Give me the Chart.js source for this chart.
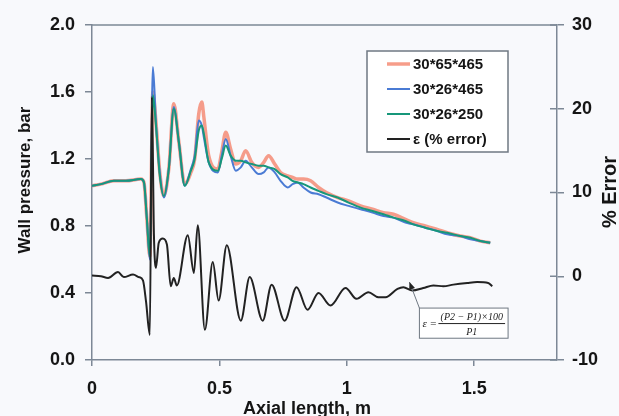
<!DOCTYPE html>
<html>
<head>
<meta charset="utf-8">
<script src="https://cdn.jsdelivr.net/npm/chart.js@4.4.0/dist/chart.umd.min.js"></script>
<style>
  html, body { margin: 0; padding: 0; background: #f8f9fc; }
  #wrap { width: 619px; height: 416px; }
</style>
</head>
<body>
<div id="wrap"><canvas id="chart" width="619" height="416"></canvas></div>
<script>
// axial positions (m) shared by the three pressure runs
const pressX = [0, 0.035, 0.086, 0.133, 0.192, 0.204, 0.215, 0.227, 0.239, 0.251, 0.266, 0.282, 0.302, 0.321,
  0.341, 0.364, 0.388, 0.403, 0.419, 0.431, 0.439, 0.458, 0.494, 0.509, 0.525, 0.544, 0.564, 0.584, 0.603,
  0.627, 0.654, 0.674, 0.693, 0.717, 0.740, 0.768, 0.787, 0.807, 0.830, 0.858, 0.889, 0.920, 0.964, 1.007,
  1.054, 1.101, 1.144, 1.183, 1.230, 1.261, 1.308, 1.355, 1.394, 1.445, 1.485, 1.524, 1.563];

// wall pressure (bar) for each mesh
const p65x465 = [1.04, 1.05, 1.07, 1.07, 1.08, 1.06, 0.85, 0.62, 1.60, 1.42, 1.12, 0.98, 1.15, 1.53,
  1.30, 1.05, 1.12, 1.20, 1.47, 1.54, 1.45, 1.22, 1.14, 1.24, 1.36, 1.26, 1.17, 1.19, 1.25,
  1.18, 1.15, 1.18, 1.22, 1.17, 1.12, 1.10, 1.09, 1.08, 1.08, 1.07, 1.03, 1.00, 0.97, 0.95,
  0.92, 0.90, 0.88, 0.87, 0.84, 0.82, 0.80, 0.78, 0.76, 0.74, 0.73, 0.71, 0.70];
const p26x465 = [1.04, 1.05, 1.07, 1.07, 1.08, 1.06, 0.85, 0.60, 1.75, 1.42, 1.12, 0.97, 1.15, 1.51,
  1.30, 1.04, 1.14, 1.22, 1.43, 1.40, 1.33, 1.18, 1.12, 1.22, 1.32, 1.22, 1.13, 1.15, 1.19,
  1.15, 1.11, 1.12, 1.15, 1.12, 1.07, 1.03, 1.05, 1.06, 1.03, 1.00, 0.99, 0.97, 0.94, 0.92,
  0.90, 0.88, 0.86, 0.85, 0.82, 0.81, 0.79, 0.77, 0.75, 0.74, 0.72, 0.71, 0.70];
const p26x250 = [1.04, 1.05, 1.07, 1.07, 1.08, 1.06, 0.85, 0.62, 1.58, 1.40, 1.10, 0.98, 1.15, 1.50,
  1.30, 1.04, 1.13, 1.20, 1.37, 1.40, 1.35, 1.18, 1.13, 1.20, 1.28, 1.22, 1.19, 1.19, 1.18,
  1.17, 1.16, 1.16, 1.15, 1.14, 1.11, 1.09, 1.07, 1.06, 1.05, 1.03, 1.01, 0.99, 0.97, 0.94,
  0.91, 0.89, 0.87, 0.85, 0.83, 0.81, 0.79, 0.77, 0.76, 0.74, 0.73, 0.71, 0.70];

// relative error between meshes (%)
const errX = [0, 0.035, 0.063, 0.102, 0.125, 0.161, 0.184, 0.200, 0.212, 0.227, 0.235, 0.243, 0.251,
  0.262, 0.278, 0.294, 0.309, 0.321, 0.333, 0.376, 0.400, 0.415, 0.443, 0.474, 0.497, 0.529,
  0.584, 0.619, 0.670, 0.705, 0.756, 0.803, 0.846, 0.889, 0.936, 0.995, 1.038, 1.085, 1.124,
  1.152, 1.199, 1.222, 1.257, 1.300, 1.340, 1.379, 1.418, 1.473, 1.512, 1.555, 1.571];
const errPct = [0.1, 0.0, -0.2, 0.5, -0.1, 0.2, -0.1, -0.5, -3.0, -7.0, 21.4, 5.0, 1.0,
  4.0, 4.5, 3.8, -1.2, -0.2, -1.1, 4.9, 0.4, 6.1, -6.4, 1.7, -2.9, 3.7,
  -5.3, -0.1, -5.3, -1.0, -5.3, -1.3, -4.0, -2.0, -3.5, -1.4, -2.7, -1.9, -2.5,
  -2.5, -1.5, -1.3, -1.7, -1.4, -1.1, -1.2, -1.0, -0.8, -0.7, -0.8, -1.2];

const xTicks = [0, 0.5, 1, 1.5];
const pTicks = [0, 0.4, 0.8, 1.2, 1.6, 2.0];
const errTicks = [-10, 0, 10, 20, 30];
const seriesLabels = ['30*65*465', '30*26*465', '30*26*250', 'ε (% error)'];

const axisColor = '#7d8896';
const textColor = '#151515';
const sans = "'Liberation Sans', Arial, sans-serif";
Chart.defaults.font.family = sans;

function pts(xs, ys) {
  return xs.map((x, i) => ({ x: x, y: ys[i] }));
}

// legend, axis titles, top frame line and the formula note
const decor = {
  id: 'decor',
  afterDraw(chart) {
    const ctx = chart.ctx;
    const area = chart.chartArea;
    const y1 = chart.scales.y1;
    const x = chart.scales.x;
    ctx.save();

    ctx.strokeStyle = axisColor;
    ctx.lineWidth = 1.5;
    ctx.beginPath();
    ctx.moveTo(area.left, area.top);
    ctx.lineTo(area.right, area.top);
    ctx.stroke();
    // right axis ticks cross the line
    errTicks.forEach(t => {
      const py = y1.getPixelForValue(t);
      ctx.beginPath();
      ctx.moveTo(area.right - 7, py);
      ctx.lineTo(area.right, py);
      ctx.stroke();
    });

    ctx.fillStyle = textColor;
    ctx.textAlign = 'center';
    ctx.textBaseline = 'alphabetic';
    ctx.font = 'bold 18px ' + sans;
    ctx.fillText('Axial length, m', 307, 414);

    ctx.save();
    ctx.translate(30, 180);
    ctx.rotate(-Math.PI / 2);
    ctx.font = 'bold 17px ' + sans;
    ctx.fillText('Wall pressure, bar', 0, 0);
    ctx.restore();

    ctx.save();
    ctx.translate(616, 192);
    ctx.rotate(-Math.PI / 2);
    ctx.font = 'bold 20px ' + sans;
    ctx.fillText('% Error', 0, 0);
    ctx.restore();

    // legend box
    const lx = 367, ly = 51, lw = 141, lh = 101;
    ctx.fillStyle = '#ffffff';
    ctx.fillRect(lx, ly, lw, lh);
    ctx.strokeStyle = '#6f7882';
    ctx.lineWidth = 1.5;
    ctx.strokeRect(lx, ly, lw, lh);
    ctx.font = 'bold 15px ' + sans;
    ctx.textAlign = 'left';
    ctx.textBaseline = 'middle';
    chart.data.datasets.forEach((ds, i) => {
      const ry = 64 + i * 25;
      ctx.strokeStyle = ds.borderColor;
      ctx.lineWidth = ds.borderWidth;
      ctx.beginPath();
      ctx.moveTo(387, ry);
      ctx.lineTo(410, ry);
      ctx.stroke();
      ctx.fillStyle = textColor;
      ctx.fillText(ds.label, 413, ry + 1);
    });

    // formula note with arrow onto the error curve
    const tipX = x.getPixelForValue(1.246), tipY = y1.getPixelForValue(-0.7);
    const bx = x.getPixelForValue(1.285), by = y1.getPixelForValue(-3.8);
    const bx2 = x.getPixelForValue(1.633), by2 = y1.getPixelForValue(-7.4);
    ctx.strokeStyle = '#6f7882';
    ctx.lineWidth = 1;
    ctx.beginPath();
    ctx.moveTo(bx, by);
    ctx.lineTo(tipX, tipY);
    ctx.stroke();
    const ang = Math.atan2(tipY - by, tipX - bx);
    ctx.fillStyle = '#222';
    ctx.beginPath();
    ctx.moveTo(tipX, tipY);
    ctx.lineTo(tipX - 8 * Math.cos(ang - 0.4), tipY - 8 * Math.sin(ang - 0.4));
    ctx.lineTo(tipX - 8 * Math.cos(ang + 0.4), tipY - 8 * Math.sin(ang + 0.4));
    ctx.closePath();
    ctx.fill();
    ctx.fillStyle = '#ffffff';
    ctx.fillRect(bx, by, bx2 - bx, by2 - by);
    ctx.strokeRect(bx, by, bx2 - bx, by2 - by);

    const serif = "'Liberation Serif', 'DejaVu Serif', serif";
    ctx.fillStyle = '#222';
    ctx.font = 'italic 11px ' + serif;
    ctx.textAlign = 'left';
    ctx.textBaseline = 'alphabetic';
    ctx.fillText('ε =', bx + 3, by + 19);
    ctx.textAlign = 'center';
    const fl = bx + 19, fr = bx2 - 3;
    const fx = (fl + fr) / 2;
    ctx.font = 'italic 10px ' + serif;
    ctx.fillText('(P2 − P1)×100', fx, by + 12);
    ctx.fillText('P1', fx, by + 27);
    ctx.lineWidth = 1;
    ctx.strokeStyle = '#222';
    ctx.beginPath();
    ctx.moveTo(fl, by + 15.5);
    ctx.lineTo(fr, by + 15.5);
    ctx.stroke();

    ctx.restore();
  }
};

const tickFont = { size: 18, weight: 'bold' };

new Chart(document.getElementById('chart'), {
  type: 'line',
  data: {
    datasets: [
      {
        label: seriesLabels[0],
        data: pts(pressX, p65x465),
        borderColor: 'rgba(244, 140, 118, 0.85)',
        borderWidth: 3.5,
        yAxisID: 'y',
        order: 3
      },
      {
        label: seriesLabels[1],
        data: pts(pressX, p26x465),
        borderColor: '#4a7bd4',
        borderWidth: 2,
        yAxisID: 'y',
        order: 2
      },
      {
        label: seriesLabels[2],
        data: pts(pressX, p26x250),
        borderColor: '#17977a',
        borderWidth: 2,
        yAxisID: 'y',
        order: 1
      },
      {
        label: seriesLabels[3],
        data: pts(errX, errPct),
        borderColor: '#222222',
        borderWidth: 2,
        yAxisID: 'y1',
        order: 0
      }
    ]
  },
  options: {
    responsive: false,
    animation: false,
    devicePixelRatio: 1,
    layout: { padding: { top: 25, left: 0, right: 0, bottom: 0 } },
    elements: {
      point: { radius: 0 },
      line: { cubicInterpolationMode: 'monotone', fill: false }
    },
    plugins: {
      legend: { display: false },
      tooltip: { enabled: false }
    },
    scales: {
      x: {
        type: 'linear',
        min: 0,
        max: 1.825,
        afterBuildTicks: s => { s.ticks = xTicks.map(v => ({ value: v })); },
        afterFit: s => { s.height = 56; },
        grid: { drawOnChartArea: false, tickLength: 6, color: axisColor, lineWidth: 1.5 },
        border: { color: axisColor, width: 1.5 },
        ticks: { font: tickFont, color: textColor, padding: 12, maxRotation: 0, callback: v => String(v) }
      },
      y: {
        position: 'left',
        min: 0,
        max: 2,
        afterBuildTicks: s => { s.ticks = pTicks.map(v => ({ value: v })); },
        afterFit: s => { s.width = 92; },
        grid: { drawOnChartArea: false, tickLength: 7, color: axisColor, lineWidth: 1.5 },
        border: { color: axisColor, width: 1.5 },
        ticks: { font: tickFont, color: textColor, padding: 10, callback: v => v.toFixed(1) }
      },
      y1: {
        position: 'right',
        min: -10,
        max: 30,
        afterBuildTicks: s => { s.ticks = errTicks.map(v => ({ value: v })); },
        afterFit: s => { s.width = 62; },
        grid: { drawOnChartArea: false, tickLength: 7, color: axisColor, lineWidth: 1.5 },
        border: { color: axisColor, width: 1.5 },
        ticks: { font: tickFont, color: textColor, padding: 8, callback: v => String(v) }
      }
    }
  },
  plugins: [decor]
});
</script>
</body>
</html>
